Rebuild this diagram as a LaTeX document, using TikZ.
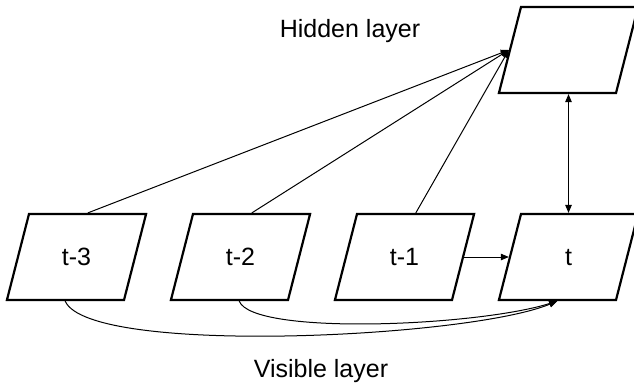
\documentclass[tikz,border=0pt]{standalone}
\usepackage{fontspec}
\setmainfont{Liberation Sans}
\usepackage{tikz}
\usetikzlibrary{arrows.meta,shapes.geometric,calc}
\definecolor{ink}{HTML}{000000}

\tikzset{
  frame/.style={draw=ink,line width=2.2pt,trapezium,trapezium left angle=75.6,
    trapezium right angle=104.4,inner sep=0pt,text width=95pt,align=center,
    text height=51pt,text depth=35pt,font=\fontsize{25}{30}\selectfont},
  link/.style={draw=ink,line width=1pt},
  caption/.style={anchor=base,font=\fontsize{25}{30}\selectfont,text=ink}
}

\begin{document}
\begin{tikzpicture}[x=1pt,y=-1pt,>={Triangle[length=8pt,width=6.5pt]}]
  \useasboundingbox (0,0) rectangle (634,383);
  \foreach \n/\lab [count=\i] in {t3/t-3,t2/t-2,t1/t-1,t0/t}{
    \node[frame] (\n) at (76.5+164*\i-164,257) {\lab};
  }
  \node[frame] (hid) at (568.5,50) {};
  \node[caption] (hidlab) at (350,37) {Hidden layer};
  \node[caption] (vislab) at (321,377) {Visible layer};
  % links up to the hidden layer
  \foreach \n in {t3,t2,t1}{\draw[link,->] (\n.top side) -- (hid.left side);}
  \draw[link,<->] (hid.center |- hid.bottom side) -- (t0.center |- t0.top side);
  \draw[link,->] (t1.right side) -- (t0.left side);
  % lagged links below the row
  \draw[link,->] (t3.bottom side) .. controls +(24,55) and +(-89,37) .. (t0.bottom side);
  \draw[link,->] ($(t2.bottom side)+(10,0)$) .. controls +(14,35) and +(-79,25) .. (t0.bottom side);
\end{tikzpicture}
\end{document}
